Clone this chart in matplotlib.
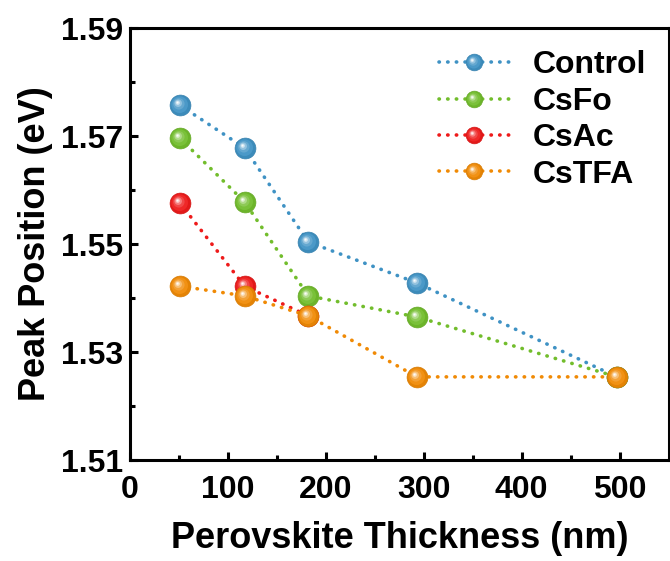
import numpy as np
import matplotlib
matplotlib.use("Agg")
import matplotlib.pyplot as plt
from matplotlib.path import Path
from matplotlib.markers import MarkerStyle
from matplotlib.legend_handler import HandlerTuple
import matplotlib.colors as mcolors

plt.rcParams['font.family'] = ['Liberation Sans', 'DejaVu Sans']
plt.rcParams['font.weight'] = 'bold'

# %% data
labels = ['Control', 'CsFo', 'CsAc', 'CsTFA']
colors = ['#3f92c4', '#72bd2c', '#ee1a1a', '#f08a05']
x_control = [51, 117, 182, 293, 497]
y_control = [1.5757, 1.5678, 1.5504, 1.5428, 1.5254]
x_csfo = [51, 117, 182, 293, 497]
y_csfo = [1.5696, 1.5578, 1.5404, 1.5365, 1.5254]
x_csac = [51, 117, 182]
y_csac = [1.5576, 1.5422, 1.5367]
x_cstfa = [51, 117, 182, 293, 497]
y_cstfa = [1.5422, 1.5404, 1.5367, 1.5254, 1.5254]
xs = [x_control, x_csfo, x_csac, x_cstfa]
ys = [y_control, y_csfo, y_csac, y_cstfa]


def spot(r, dx, dy):
    # circle of radius r centred at (dx, dy), padded so marker scaling stays fixed
    c = Path.circle((dx, dy), r)
    pad = Path([(-1, -1), (1, 1)], [Path.MOVETO, Path.MOVETO])
    return MarkerStyle(Path.make_compound_path(pad, c))


def lighten(c, f):
    rgb = np.array(mcolors.to_rgb(c))
    return tuple(rgb + (1 - rgb) * f)


def darken(c, f):
    return tuple(np.array(mcolors.to_rgb(c)) * (1 - f))


# %% plot
fig = plt.figure(figsize=(6.7, 5.61), dpi=100)
ax = fig.add_axes([0.194, 0.180, 0.804, 0.770])

ms = 15
handles = []
for x, y, c, lab in zip(xs, ys, colors, labels):
    line, = ax.plot(x, y, linestyle=(0, (0.1, 2.3)), dash_capstyle='round', lw=2.6,
                    color=c, marker='o', ms=ms, mfc=darken(c, 0.05), mec=darken(c, 0.1),
                    mew=0.5, zorder=2)
    layers = [line]
    for r, dx, dy, f in [(0.8, -0.08, 0.08, 0.06),
                         (0.55, -0.16, 0.16, 0.2),
                         (0.36, -0.22, 0.22, 0.45),
                         (0.2, -0.26, 0.26, 0.75),
                         (0.09, -0.28, 0.28, 0.97)]:
        h, = ax.plot(x, y, linestyle='none', marker=spot(r, dx, dy), ms=ms,
                     mfc=lighten(c, f), mec='none', zorder=2)
        layers.append(h)
    handles.append(tuple(layers))

ax.set_xlim(0, 550)
ax.set_ylim(1.51, 1.59)
ax.set_xticks([0, 100, 200, 300, 400, 500])
ax.set_xticks(np.arange(50, 550, 100), minor=True)
ax.set_yticks([1.51, 1.53, 1.55, 1.57, 1.59])
ax.set_yticks([1.52, 1.54, 1.56, 1.58], minor=True)
ax.tick_params(which='major', direction='in', width=2.2, length=6, labelsize=23)
ax.tick_params(which='minor', direction='in', width=2.2, length=3.5)
ax.tick_params(axis='x', which='major', pad=11)
ax.tick_params(axis='y', which='major', pad=5)
for s in ax.spines.values():
    s.set_linewidth(2.2)

ax.set_xlabel('Perovskite Thickness (nm)', fontsize=26, fontweight='bold', labelpad=11)
ax.set_ylabel('Peak Position (eV)', fontsize=26, fontweight='bold', labelpad=6)

ax.legend(handles, labels, handler_map={tuple: HandlerTuple(ndivide=1, pad=0)},
          loc='upper right', frameon=False, fontsize=23, handlelength=2.2,
          handletextpad=0.75, labelspacing=0.2, markerscale=0.8,
          borderaxespad=0.3, bbox_to_anchor=(1.0, 1.0))

fig.savefig('out.png', dpi=100)
